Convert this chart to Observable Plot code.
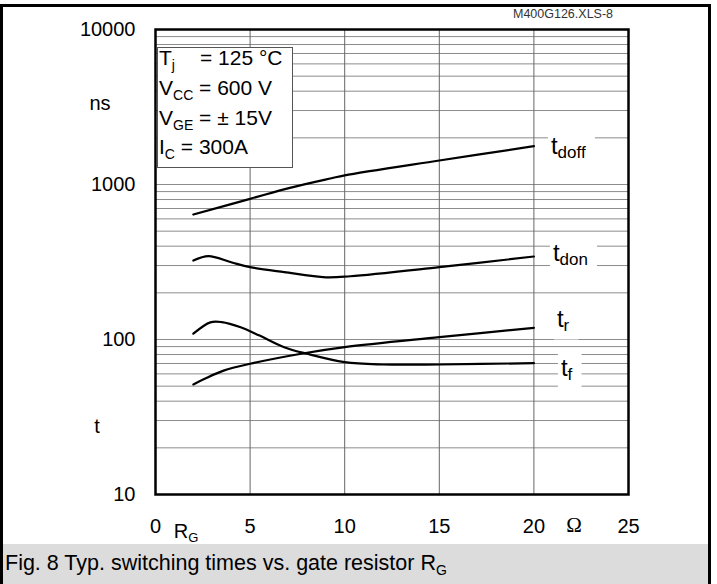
<!DOCTYPE html>
<html><head><meta charset="utf-8">
<script src="https://cdn.jsdelivr.net/npm/d3@7"></script>
<script src="https://cdn.jsdelivr.net/npm/@observablehq/plot@0.6"></script>
<style>
body{margin:0;background:#fff;font-family:"Liberation Sans",Arial,sans-serif;}
#wrap{position:relative;width:717px;height:584px;overflow:hidden;background:#fff;}
.abs{position:absolute;}
.sub{font-size:14px;position:relative;top:5px;}
</style></head><body>
<div id="wrap">
  <div id="chart" class="abs" style="left:0;top:0"></div>
  <div class="abs" style="left:157px;top:47px;width:134px;height:119px;background:#fff;border:1px solid #555;font-size:21px;line-height:21px;color:#000;">
    <div class="abs" style="left:1px;top:-1px;white-space:nowrap">T<span class="sub">j</span></div>
    <div class="abs" style="left:42px;top:-1px;white-space:nowrap">= 125 °C</div>
    <div class="abs" style="left:1px;top:29px;white-space:nowrap">V<span class="sub">CC</span> = 600 V</div>
    <div class="abs" style="left:1px;top:59px;white-space:nowrap">V<span class="sub">GE</span> = ± 15V</div>
    <div class="abs" style="left:1px;top:88px;white-space:nowrap">I<span class="sub">C</span> = 300A</div>
  </div>
  <div class="abs" style="left:3px;top:544px;width:705px;height:40px;background:#dcdcdc;"></div>
  <div class="abs" style="left:5px;top:553px;font-size:21.5px;line-height:21px;white-space:nowrap;color:#000;">Fig. 8 Typ. switching times vs. gate resistor R<span class="sub">G</span></div>
  <div class="abs" style="left:0;top:4px;width:711px;height:3px;background:#000"></div>
  <div class="abs" style="left:0;top:4px;width:3px;height:580px;background:#000"></div>
  <div class="abs" style="left:708px;top:4px;width:3px;height:580px;background:#000"></div>
</div>
<script>
// Gate resistor R_G (Ω) and switching times (ns)
const R_doff = [2, 5, 7.1, 9.3, 10, 15, 20];
const T_doff = [640, 808, 952, 1098, 1146, 1428, 1767];
const R_don = [2, 2.8, 4, 5, 6.8, 9, 10.3, 15, 20];
const T_don = [323, 345, 315, 293, 272, 252, 256, 293, 343];
const R_r = [2, 2.6, 3.6, 5, 7.7, 10, 15, 20];
const T_r = [51.3, 55.8, 63, 69.7, 80.9, 89.2, 103.5, 119];
const R_f = [2, 2.9, 3.5, 4.5, 5.5, 6.8, 8, 10, 12, 15, 20];
const T_f = [109, 129, 129.5, 120, 106, 89.2, 80.9, 71.4, 69, 69, 70.4];

const xTicks = [0, 5, 10, 15, 20, 25];
const xGrid = [5, 10, 15, 20];
const yTicks = [10, 100, 1000, 10000];
const yDomain = [10, 10000];
const xDomain = [0, 25];

const seriesList = [
  {name: "t_doff", R: R_doff, T: T_doff},
  {name: "t_don", R: R_don, T: T_don},
  {name: "t_r", R: R_r, T: T_r},
  {name: "t_f", R: R_f, T: T_f}
];
const rows = seriesList.flatMap(s => s.R.map((r, i) => ({series: s.name, R: r, t: s.T[i]})));
const lastRows = seriesList.map(s => ({series: s.name, R: s.R[s.R.length - 1], t: s.T[s.T.length - 1]}));
const yGrid = d3.scaleLog().domain(yDomain).ticks().filter(v => v > yDomain[0] && v < yDomain[1]);

// label offsets (style only)
const labelOffset = {t_doff: [17, 0], t_don: [19, -3], t_r: [23, -8], t_f: [27, 5]};

const plot = Plot.plot({
  width: 717, height: 544,
  marginLeft: 155, marginRight: 89, marginTop: 29, marginBottom: 50,
  style: {fontSize: "20px", fontFamily: "'Liberation Sans', Arial, sans-serif", color: "#000", background: "transparent"},
  x: {domain: xDomain, ticks: xTicks, tickSize: 0, tickPadding: 24, label: null, tickFormat: d3.format("d")},
  y: {type: "log", domain: yDomain, ticks: yTicks, tickSize: 0, tickPadding: 20, label: null, tickFormat: d3.format("d")},
  marks: [
    Plot.ruleY(yGrid, {stroke: "#8c8c8c", strokeWidth: 1, strokeOpacity: 1}),
    Plot.ruleX(xGrid, {stroke: "#666", strokeWidth: 1, strokeOpacity: 1}),
    Plot.line(rows, {x: "R", y: "t", z: "series", stroke: "#000", strokeWidth: 2.2, curve: "catmull-rom"}),
    ...lastRows.map(d => Plot.text([d], {
      x: "R", y: "t", text: "series", textAnchor: "start",
      dx: labelOffset[d.series][0], dy: labelOffset[d.series][1],
      fontSize: 24, fill: "#000", fontFamily: "'Liberation Sans', Arial, sans-serif"
    })),
    Plot.frame({stroke: "#000", strokeWidth: 2.5})
  ]
});
document.getElementById("chart").appendChild(plot);

const svg = d3.select(plot);
const ns = "http://www.w3.org/2000/svg";
// curve labels with subscripts and white backing boxes
Array.from(plot.querySelectorAll("text")).filter(t => t.textContent.includes("_")).forEach(tx => {
  const parts = tx.textContent.split("_");
  tx.textContent = parts[0];
  tx.setAttribute("font-family", "'Liberation Sans', Arial, sans-serif");
  const ts = document.createElementNS(ns, "tspan");
  ts.setAttribute("font-size", "17");
  ts.setAttribute("dy", "4");
  ts.textContent = parts[1];
  tx.appendChild(ts);
  const bb = tx.getBBox();
  const rect = document.createElementNS(ns, "rect");
  rect.setAttribute("x", bb.x - 3);
  rect.setAttribute("y", bb.y - 4);
  rect.setAttribute("width", bb.width + 12);
  rect.setAttribute("height", bb.height + 8);
  rect.setAttribute("fill", "#fff");
  if (tx.getAttribute("transform")) rect.setAttribute("transform", tx.getAttribute("transform"));
  tx.parentNode.insertBefore(rect, tx);
});

// annotations
const ann = svg.append("g").attr("font-family", "'Liberation Sans', Arial, sans-serif").attr("fill", "#000");
ann.append("text").attr("x", 100).attr("y", 110).attr("font-size", 20).text("ns");
ann.append("text").attr("x", 97).attr("y", 433).attr("font-size", 20).text("t");
const rg = ann.append("text").attr("x", 186).attr("y", 538).attr("font-size", 20).text("R");
rg.append("tspan").attr("font-size", 13).attr("dy", 4).text("G");
ann.append("text").attr("x", 574).attr("y", 532).attr("font-size", 21).attr("text-anchor", "middle")
  .attr("font-family", "'Liberation Serif', serif").text("Ω");
ann.append("text").attr("x", 563).attr("y", 18).attr("font-size", 12.5).attr("text-anchor", "middle")
  .attr("fill", "#333").text("M400G126.XLS-8");
</script>
</body></html>
